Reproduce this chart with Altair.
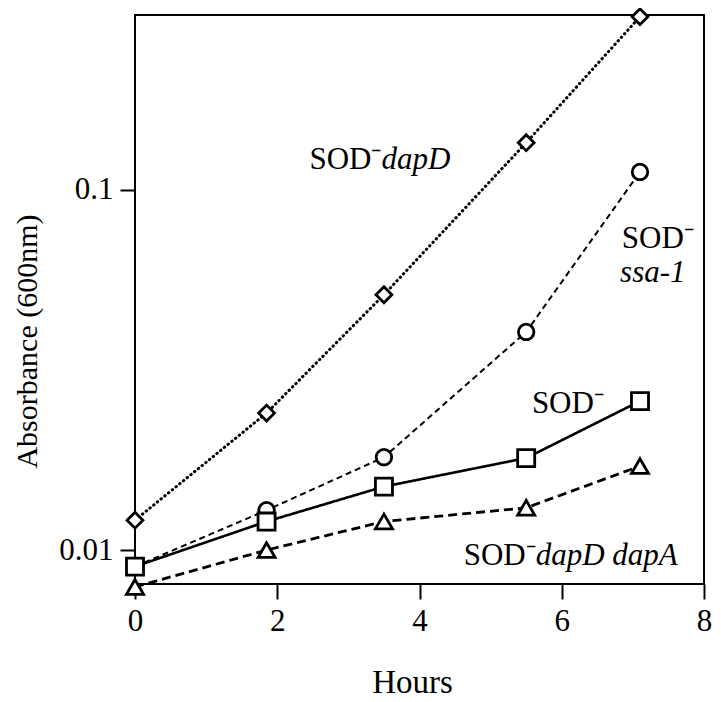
import altair as alt
import pandas as pd

hours = [0, 1.85, 3.5, 5.5, 7.1]
sod_dapD = [0.0121, 0.0240, 0.0511, 0.135, 0.302]
sod_ssa1 = [0.0090, 0.0129, 0.0181, 0.0403, 0.112]
sod = [0.0090, 0.0120, 0.0150, 0.0180, 0.0259]
sod_dapD_dapA = [0.0079, 0.0100, 0.0120, 0.0131, 0.0171]

series = [
    ("SOD- dapD", sod_dapD, "diamond", 250, [0.5, 4.3], 3.0, "round"),
    ("SOD- ssa-1", sod_ssa1, "circle", 240, [6, 4], 2.0, "butt"),
    ("SOD-", sod, "square", 290, [1, 0], 2.6, "butt"),
    ("SOD- dapD dapA", sod_dapD_dapA, "triangle-up", 290, [9, 5], 2.8, "butt"),
]

# annotation labels (data coordinates)
lab_x = [3.465, 6.845, 5.58, 5.634]
lab_y = [0.1144, 0.0690, 0.0240, 0.00908]
lab_text = ["SOD\u207b", "SOD\u207b", "SOD\u207b", "SOD\u207b"]
lab_align = ["right", "left", "left", "right"]
ital_x = [3.465, 6.82, 5.634]
ital_y = [0.1144, 0.0555, 0.00908]
ital_text = ["dapD", "ssa-1", "dapD dapA"]

FONT = "Liberation Serif"
xs = alt.Scale(domain=[0, 8], nice=False, zero=False)
ys = alt.Scale(type="log", domain=[0.00805, 0.3053], nice=False)

layers = []
for name, vals, shape, size, dash, sw, cap in series:
    df = pd.DataFrame({"Hours": hours, "A": vals, "s": name})
    base = alt.Chart(df)
    line = base.mark_line(color="black", strokeDash=dash, strokeWidth=sw, strokeCap=cap).encode(
        x=alt.X("Hours:Q", scale=xs,
                axis=alt.Axis(values=[0, 2, 4, 6, 8], format="d", title="Hours",
                              labelFlush=False,
                              titleX=277, titleY=108, titleBaseline="alphabetic",
                              titleAlign="center", titleFontSize=33)),
        y=alt.Y("A:Q", scale=ys,
                axis=alt.Axis(values=[0.01, 0.1], format=".2~f", title="Absorbance (600nm)",
                              labelFlush=False,
                              titleX=-108, titleY=326, titleAlign="center",
                              titleBaseline="middle", titleAngle=-90, titleFontSize=30)),
    )
    pts = base.mark_point(shape=shape, size=size, filled=True, fill="white",
                          stroke="black", strokeWidth=2.8, opacity=1).encode(
        x=alt.X("Hours:Q", scale=xs), y=alt.Y("A:Q", scale=ys))
    layers += [line, pts]

ldf = pd.DataFrame({"x": lab_x, "y": lab_y, "t": lab_text, "al": lab_align})
for al in ["left", "right"]:
    sub = ldf[ldf.al == al]
    layers.append(alt.Chart(sub).mark_text(font=FONT, fontSize=31, align=al,
                                           baseline="alphabetic", color="black").encode(
        x=alt.X("x:Q", scale=xs), y=alt.Y("y:Q", scale=ys), text="t:N"))
idf = pd.DataFrame({"x": ital_x, "y": ital_y, "t": ital_text})
layers.append(alt.Chart(idf).mark_text(font=FONT, fontSize=31, fontStyle="italic", align="left",
                                       baseline="alphabetic", color="black").encode(
    x=alt.X("x:Q", scale=xs), y=alt.Y("y:Q", scale=ys), text="t:N"))

chart = alt.layer(*layers).properties(
    width=569, height=569,
    autosize=alt.AutoSizeParams(type="none"),
    padding={"left": 127, "top": 7, "right": 8, "bottom": 118},
    background="white",
).configure_view(stroke="black", strokeWidth=2).configure_axis(
    grid=False, domain=False, ticks=True, tickColor="black", tickWidth=2, tickSize=15,
    labelFont=FONT, labelFontSize=31, labelColor="black", labelPadding=7,
    titleFont=FONT, titleColor="black", titleFontWeight="normal",
)

chart.save("out.html", embed_options={"renderer": "svg", "actions": False})
